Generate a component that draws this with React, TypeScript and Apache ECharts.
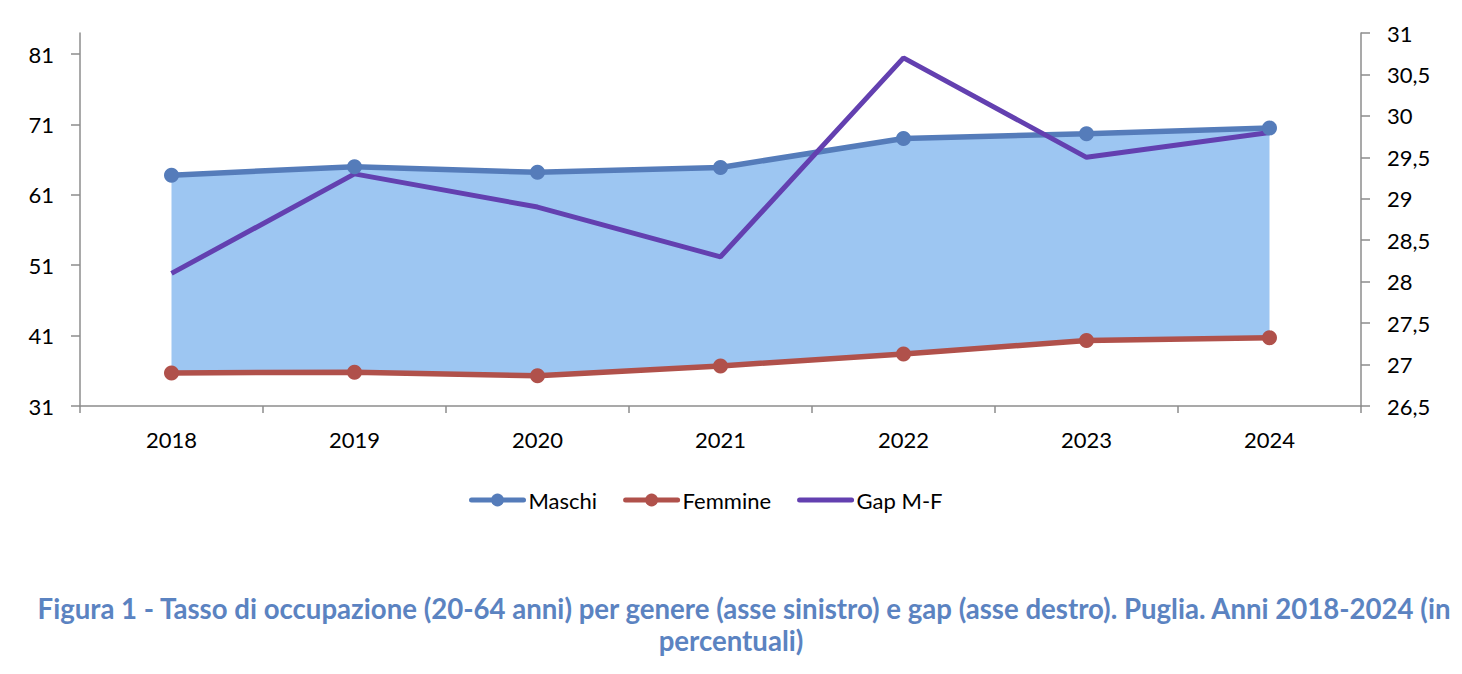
import { useEffect, useRef } from "react"
import * as echarts from "echarts"

const anni = ["2018", "2019", "2020", "2021", "2022", "2023", "2024"]
const maschi = [63.8, 65.0, 64.2, 64.9, 69.0, 69.7, 70.5]
const femmine = [35.7, 35.8, 35.3, 36.7, 38.4, 40.3, 40.7]
const gapMF = [28.1, 29.3, 28.9, 28.3, 30.7, 29.5, 29.8]
const leftTicks = [31, 41, 51, 61, 71, 81]

const captionLine1 =
  "Figura 1 - Tasso di occupazione (20-64 anni) per genere (asse sinistro) e gap (asse destro). Puglia. Anni 2018-2024 (in"
const captionLine2 = "percentuali)"

const FONT = "Lato, 'Open Sans', sans-serif"
const AXIS_GREY = "#8c8c8c"
const CAPTION_BLUE = "#5b83c1"

export default function App() {
  const chartRef = useRef<HTMLDivElement>(null)

  useEffect(() => {
    document.body.style.margin = "0"
    if (!chartRef.current) return
    const chart = echarts.init(chartRef.current, undefined, { renderer: "svg" })

    // area between the two lines: invisible base + stacked difference
    const band = maschi.map((m, i) => +(m - femmine[i]).toFixed(2))

    const option: echarts.EChartsOption = {
      animation: false,
      textStyle: { fontFamily: FONT },
      grid: { left: 80, right: 101, top: 33, bottom: 268 },
      legend: {
        data: ["Maschi", "Femmine", { name: "Gap M-F", itemStyle: { opacity: 0 } }],
        left: 464,
        top: 484,
        itemWidth: 52,
        itemHeight: 16,
        itemGap: 26,
        lineStyle: { width: 5, cap: "round" },
        textStyle: { fontSize: 22, color: "#000", fontFamily: FONT },
      },
      xAxis: {
        type: "category",
        data: anni,
        boundaryGap: true,
        axisLine: { lineStyle: { color: AXIS_GREY, width: 1.5 } },
        axisTick: { show: true, length: 7, interval: 0, lineStyle: { color: AXIS_GREY, width: 1.5 } },
        axisLabel: { fontSize: 22, color: "#000", margin: 22, fontFamily: FONT },
      },
      yAxis: [
        {
          type: "value",
          min: 31,
          max: 84,
          interval: 10,
          splitLine: { show: false },
          axisLine: { show: true, lineStyle: { color: AXIS_GREY, width: 1.5 } },
          axisTick: { show: true, length: 9, customValues: leftTicks, lineStyle: { color: AXIS_GREY, width: 1.5 } },
          axisLabel: { fontSize: 22, color: "#000", margin: 26, customValues: leftTicks, fontFamily: FONT },
        },
        {
          type: "value",
          min: 26.5,
          max: 31,
          interval: 0.5,
          position: "right",
          splitLine: { show: false },
          axisLine: { show: true, lineStyle: { color: AXIS_GREY, width: 1.5 } },
          axisTick: { show: true, length: 9, lineStyle: { color: AXIS_GREY, width: 1.5 } },
          axisLabel: {
            fontSize: 22,
            color: "#000",
            margin: 26,
            fontFamily: FONT,
            formatter: (v: number) => String(v).replace(".", ","),
          },
        },
      ],
      series: [
        {
          name: "base",
          type: "line",
          stack: "band",
          data: femmine,
          symbol: "none",
          silent: true,
          lineStyle: { width: 0, opacity: 0 },
        },
        {
          name: "band",
          type: "line",
          stack: "band",
          data: band,
          symbol: "none",
          silent: true,
          lineStyle: { width: 0, opacity: 0 },
          areaStyle: { color: "#9dc6f2", opacity: 1 },
        },
        {
          name: "Femmine",
          type: "line",
          data: femmine,
          color: "#b0514b",
          symbol: "circle",
          symbolSize: 15,
          lineStyle: { width: 5.5, color: "#b0514b" },
          itemStyle: { color: "#b0514b" },
        },
        {
          name: "Maschi",
          type: "line",
          data: maschi,
          color: "#557cba",
          symbol: "circle",
          symbolSize: 15,
          lineStyle: { width: 5.5, color: "#557cba" },
          itemStyle: { color: "#557cba" },
        },
        {
          name: "Gap M-F",
          type: "line",
          yAxisIndex: 1,
          data: gapMF,
          color: "#6340b0",
          symbol: "none",
          lineStyle: { width: 5, color: "#6340b0" },
        },
      ],
      graphic: [
        {
          type: "text",
          x: 744,
          y: 594,
          style: {
            text: captionLine1,
            textAlign: "center",
            font: `bold 27.6px ${FONT}`,
            fill: CAPTION_BLUE,
          },
        },
        {
          type: "text",
          x: 731,
          y: 626,
          style: {
            text: captionLine2,
            textAlign: "center",
            font: `bold 27.6px ${FONT}`,
            fill: CAPTION_BLUE,
          },
        },
      ],
    }

    chart.setOption(option)
    return () => chart.dispose()
  }, [])

  return <div ref={chartRef} style={{ width: 1462, height: 674 }} />
}
